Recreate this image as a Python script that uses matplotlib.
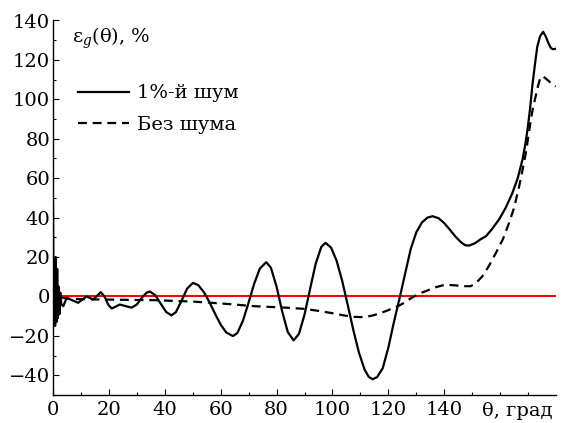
import matplotlib
matplotlib.use("Agg")
import matplotlib.pyplot as plt
from matplotlib.ticker import MultipleLocator, FixedLocator
import matplotlib.transforms as mtransforms

# ---- data ----
theta_noise = [0, 0.25, 0.5, 0.75, 1.0, 1.25, 1.5, 1.75, 2.0, 2.3, 2.6, 3.0, 3.7, 4.9,
               7, 9, 10.5, 12, 13.2, 14.4, 15.8, 17.1, 18.5, 19.8, 21, 22.5, 23.9, 26,
               28.1, 30, 32, 33.5, 34.6, 36.5, 38.5, 40.5, 42.4, 44, 46, 48, 50.1, 52,
               54, 56, 58, 60, 62, 64.4, 66, 68, 70, 72, 74, 76.3, 78, 80, 82, 84, 86.1,
               88, 90, 92, 94, 96, 97.5, 99.5, 101.5, 103.5, 105.5, 107.5, 109.5, 111.5,
               113, 114.4, 116, 118, 120, 122, 124, 126, 128, 130, 132, 134, 135.8, 138,
               140, 142, 144, 146, 147.5, 148.9, 151, 153, 154.9, 157, 159.6, 162, 164.4,
               166.3, 168, 169, 169.8, 170.7, 171.5, 172.4, 173.3, 174.3, 175.4, 176.3,
               177.3, 178.2, 178.9, 180]
eps_noise = [48, -12, 18, -15, 20, -13, 14, -11, 5, -9, 2, -4, -4.9, -0.7,
             -2, -3.2, -1.6, 0, -0.75, -1.5, 0.35, 2.2, -0.2, -4.3, -6.1, -5.1, -4.1, -4.9,
             -5.7, -4.1, -0.3, 1.9, 2.5, 0.8, -3.55, -7.9, -9.6, -7.9, -2.2, 4.0, 6.9, 5.7,
             2.2, -2.9, -8.8, -14.3, -18.3, -20.1, -18.5, -12.2, -3.1, 6.5, 14.1, 17.4,
             14.5, 5.0, -7.5, -18.0, -22.3,
             -19, -9.3, 3.8, 16.6, 25.1, 27.2, 24.8, 18.1, 7.8, -4.5, -17.2, -28.6, -37.1,
             -40.8, -42, -40.9, -36.4, -26, -13, -1, 11.5, 24, 32.5, 37.5, 40, 40.7, 39.7,
             37.2, 33.9, 30.4, 27.5, 26.0, 25.8, 27, 29, 30.5, 34, 39, 45, 52.5,
             60, 69.4, 77, 84.6, 95, 106.5, 117, 126.7, 132, 134.3, 132,
             128.5, 126, 125.4, 125.7]

theta_clean = [3, 5.5, 14.5, 36.4, 50, 59.6, 65, 71.5, 83.5, 90, 95.4, 100, 104, 107.3,
               110, 112, 114, 116, 119.2, 121.5, 123.9, 125.7, 128, 131.1, 134, 136.5,
               139.4, 142, 144.2, 147, 149.5, 151.5, 153.7, 156, 158.5, 161, 163.2, 165,
               166.8, 168, 169.2, 170.1, 171, 171.8, 172.7, 173.6, 174.5, 175.5, 176.9,
               178.4, 179.9]
eps_clean = [-0.5, -1.2, -1.5, -1.9, -2.6, -3.5, -4.1, -4.9, -5.7, -6.3, -7.4, -8.5, -9.6,
             -10.3, -10.5, -10.3, -9.8, -9, -7.4, -6, -4.6, -3.2, -1, 1.5, 3, 4.5,
             5.6, 5.8, 5.6, 5.2, 5.2, 7, 10.3, 15.5, 22.1, 29, 37.3, 45,
             55.8, 64, 72.8, 81, 89.6, 96, 101.4, 107, 111.5, 111.5, 109.9,
             108, 106.5]

x_tick_values = [0, 20, 40, 60, 80, 100, 120, 140]
y_tick_values = [-40, -20, 0, 20, 40, 60, 80, 100, 120, 140]
label_noise = "1%-й шум"
label_clean = "Без шума"

plt.rcParams['font.family'] = ['DejaVu Serif']
plt.rcParams['mathtext.fontset'] = 'dejavuserif'

fig = plt.figure(figsize=(5.74, 4.23), dpi=100)
ax = fig.add_axes([53/574, 1-395/423, (556-53)/574, (395-20.5)/423])

ax.axhline(0, color='red', lw=1.5, zorder=1)
ax.plot(theta_noise, eps_noise, color='black', lw=1.6, label=label_noise, zorder=3,
        solid_joinstyle='round')
ax.plot(theta_clean, eps_clean, color='black', lw=1.6, ls=(0, (4, 2.6)),
        label=label_clean, zorder=3)

ax.set_xlim(0, 180)
ax.set_ylim(-50, 140)

for s in ['top', 'right']:
    ax.spines[s].set_visible(False)
for s in ['left', 'bottom']:
    ax.spines[s].set_linewidth(1.0)

ax.xaxis.set_major_locator(FixedLocator(x_tick_values))
ax.xaxis.set_minor_locator(FixedLocator([v for v in range(10, 180, 10) if v not in x_tick_values]))
ax.yaxis.set_major_locator(FixedLocator(y_tick_values))
ax.yaxis.set_minor_locator(MultipleLocator(10))
ax.set_xticklabels([str(v) for v in x_tick_values])
ax.set_yticklabels([('\u2212' + str(-v)) if v < 0 else str(v) for v in y_tick_values])

ax.tick_params(which='both', direction='in', width=0.8, labelsize=14)
ax.tick_params(which='major', length=4.5)
ax.tick_params(which='minor', length=2.5)
ax.tick_params(axis='y', pad=2)
ax.tick_params(axis='x', pad=4)

trans = mtransforms.blended_transform_factory(ax.transData, ax.transAxes)
ax.text(178.7, -0.018, 'θ, град', transform=trans, ha='right', va='top', fontsize=14)

ax.text(6.8, 131, r'$\mathrm{ε}_{g}$(θ), %', ha='left', va='center', fontsize=14)

leg = ax.legend(loc='upper left', bbox_to_anchor=(0.035, 0.85), frameon=False,
                fontsize=14, handlelength=2.6, handletextpad=0.4, labelspacing=0.68,
                borderaxespad=0)

fig.savefig('out.png', dpi=100)
